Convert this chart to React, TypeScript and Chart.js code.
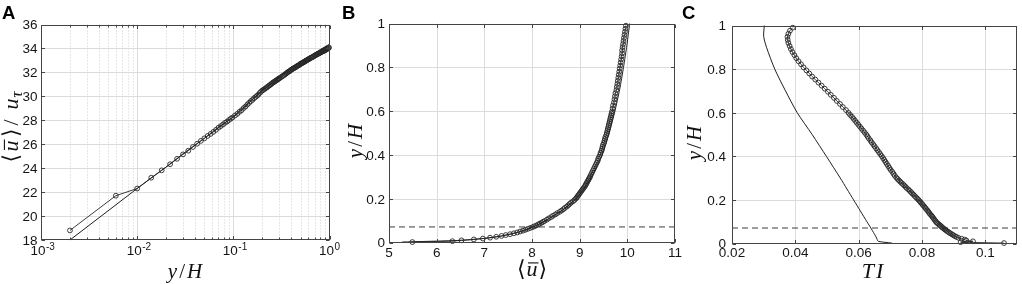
import React, { useEffect, useRef } from "react";
import { Chart, registerables } from "chart.js";

Chart.register(...registerables);

// ---------- data ----------
// wall-normal sample heights of the measured profile
const yH = [
  0.002, 0.006, 0.010, 0.014, 0.018, 0.022, 0.026, 0.030, 0.034, 0.038, 0.042, 0.046, 0.050,
  0.054, 0.058, 0.062, 0.066, 0.070, 0.074, 0.078, 0.082, 0.086, 0.090, 0.094, 0.098,
  0.104, 0.110, 0.116, 0.122, 0.128, 0.134, 0.140, 0.146, 0.152, 0.158, 0.164, 0.170,
  0.176, 0.182, 0.188, 0.194, 0.200, 0.206, 0.212, 0.218, 0.224, 0.230, 0.236, 0.242,
  0.248, 0.254, 0.260, 0.266, 0.272, 0.278, 0.284, 0.290, 0.296, 0.302,
  0.311, 0.320, 0.329, 0.338, 0.347, 0.356, 0.365, 0.374, 0.383, 0.392, 0.401,
  0.410, 0.419, 0.428, 0.437, 0.446, 0.455, 0.464, 0.473, 0.482, 0.491, 0.500,
  0.509, 0.518, 0.527, 0.536, 0.545, 0.554, 0.563, 0.572, 0.581, 0.590, 0.599,
  0.612, 0.626, 0.640, 0.654, 0.668, 0.682, 0.696, 0.710, 0.724, 0.738, 0.752, 0.766,
  0.780, 0.794, 0.808, 0.822, 0.836, 0.850, 0.864, 0.878, 0.892, 0.906, 0.920, 0.934,
  0.948, 0.962, 0.976, 0.990,
];
// panel B: mean velocity <u>
const uMean = [
  5.49, 6.33, 6.52, 6.78, 6.97, 7.12, 7.25, 7.36, 7.45, 7.54, 7.62, 7.69, 7.75,
  7.81, 7.86, 7.91, 7.96, 8.01, 8.05, 8.09, 8.13, 8.16, 8.20, 8.23, 8.26,
  8.31, 8.35, 8.40, 8.44, 8.49, 8.53, 8.58, 8.62, 8.66, 8.69, 8.73, 8.76,
  8.79, 8.82, 8.86, 8.89, 8.92, 8.94, 8.96, 8.98, 9.00, 9.02, 9.04, 9.06,
  9.08, 9.10, 9.12, 9.13, 9.15, 9.16, 9.18, 9.19, 9.21, 9.22,
  9.24, 9.26, 9.28, 9.30, 9.32, 9.34, 9.36, 9.38, 9.39, 9.41, 9.43,
  9.44, 9.46, 9.47, 9.48, 9.49, 9.51, 9.52, 9.53, 9.54, 9.56, 9.57,
  9.58, 9.59, 9.60, 9.61, 9.62, 9.63, 9.64, 9.65, 9.66, 9.67, 9.68,
  9.69, 9.70, 9.72, 9.73, 9.74, 9.75, 9.77, 9.78, 9.79, 9.80, 9.81, 9.82,
  9.83, 9.84, 9.85, 9.86, 9.87, 9.88, 9.89, 9.89, 9.90, 9.91, 9.92, 9.93,
  9.94, 9.95, 9.96, 9.97,
];
// panel A: <u>/u_tau
const uPlus = [
  18.8, 21.7, 22.3, 23.2, 23.82, 24.33, 24.78, 25.15, 25.46, 25.77, 26.04, 26.28, 26.49,
  26.69, 26.86, 27.03, 27.20, 27.38, 27.51, 27.65, 27.79, 27.89, 28.02, 28.13, 28.23,
  28.40, 28.54, 28.71, 28.84, 29.02, 29.15, 29.32, 29.46, 29.60, 29.70, 29.84, 29.94,
  30.04, 30.14, 30.28, 30.38, 30.49, 30.55, 30.62, 30.69, 30.76, 30.83, 30.90, 30.96,
  31.03, 31.10, 31.17, 31.20, 31.27, 31.31, 31.37, 31.41, 31.48, 31.51,
  31.58, 31.65, 31.72, 31.78, 31.85, 31.92, 31.99, 32.06, 32.09, 32.16, 32.23,
  32.26, 32.33, 32.36, 32.40, 32.43, 32.50, 32.54, 32.57, 32.60, 32.67, 32.71,
  32.74, 32.78, 32.81, 32.84, 32.88, 32.91, 32.95, 32.98, 33.01, 33.05, 33.08,
  33.12, 33.15, 33.22, 33.25, 33.29, 33.32, 33.39, 33.42, 33.46, 33.49, 33.53, 33.56,
  33.60, 33.63, 33.66, 33.70, 33.73, 33.77, 33.80, 33.80, 33.83, 33.87, 33.90, 33.94,
  33.97, 34.00, 34.04, 34.07,
];
// panel C: turbulence intensity
const TI = [
  0.1059, 0.0922, 0.0961, 0.0940, 0.0935, 0.0925, 0.0915, 0.0909, 0.0904, 0.0899, 0.0895, 0.0890, 0.0886,
  0.0882, 0.0878, 0.0874, 0.0871, 0.0867, 0.0864, 0.0861, 0.0858, 0.0855, 0.0851, 0.0848, 0.0845,
  0.0842, 0.0839, 0.0836, 0.0833, 0.0830, 0.0826, 0.0823, 0.0820, 0.0817, 0.0813, 0.0810, 0.0807,
  0.0803, 0.0800, 0.0796, 0.0793, 0.0789, 0.0785, 0.0781, 0.0777, 0.0773, 0.0769, 0.0765, 0.0761,
  0.0757, 0.0752, 0.0748, 0.0744, 0.0740, 0.0735, 0.0731, 0.0727, 0.0723, 0.0719,
  0.0714, 0.0710, 0.0706, 0.0701, 0.0697, 0.0693, 0.0689, 0.0685, 0.0681, 0.0677, 0.0673,
  0.0668, 0.0664, 0.0659, 0.0655, 0.0650, 0.0646, 0.0641, 0.0637, 0.0632, 0.0628, 0.0624,
  0.0619, 0.0614, 0.0609, 0.0604, 0.0599, 0.0594, 0.0589, 0.0584, 0.0579, 0.0573, 0.0568,
  0.0560, 0.0550, 0.0541, 0.0531, 0.0522, 0.0512, 0.0503, 0.0493, 0.0483, 0.0473, 0.0463, 0.0453,
  0.0444, 0.0435, 0.0426, 0.0418, 0.0410, 0.0403, 0.0397, 0.0391, 0.0386, 0.0382, 0.0378, 0.0376,
  0.0375, 0.0378, 0.0383, 0.0392,
];
// model / inflow profile (solid line)
const yHModel = [0.002, 0.01, 0.02, 0.03, 0.05, 0.07, 0.1, 0.15, 0.2, 0.25, 0.3, 0.4, 0.5, 0.6, 0.7, 0.8, 0.9, 0.95, 1.0];
const uModel = [5.27, 6.52, 7.05, 7.37, 7.76, 8.02, 8.29, 8.66, 8.93, 9.11, 9.25, 9.47, 9.62, 9.74, 9.84, 9.92, 9.99, 10.02, 10.05];
const uPlusModel = [18.0, 22.3, 24.1, 25.2, 26.5, 27.4, 28.3, 29.6, 30.5, 31.1, 31.6, 32.35, 32.9, 33.3, 33.6, 33.9, 34.15, 34.25, 34.35];
const TIModel = [0.0705, 0.0662, 0.0658, 0.0655, 0.0647, 0.0639, 0.0626, 0.0605, 0.0584, 0.0563, 0.0542, 0.0498, 0.0453, 0.0406, 0.0369, 0.0335, 0.0309, 0.0300, 0.0302];
const BLEND_HEIGHT = 0.071;

// ticks
const A_X_TICKS = [0.001, 0.01, 0.1, 1];
const A_X_EXPONENTS = ["-3", "-2", "-1", "0"];
const A_Y_TICKS = [18, 20, 22, 24, 26, 28, 30, 32, 34, 36];
const B_X_TICKS = [5, 6, 7, 8, 9, 10, 11];
const FRAC_TICKS = [0, 0.2, 0.4, 0.6, 0.8, 1];
const FRAC_LABELS = ["0", "0.2", "0.4", "0.6", "0.8", "1"];
const C_X_TICKS = [0.02, 0.04, 0.06, 0.08, 0.1];
const C_X_LABELS = ["0.02", "0.04", "0.06", "0.08", "0.1"];

const A_X_MINOR: number[] = [];
[0.001, 0.01, 0.1].forEach((d) => {
  for (let k = 2; k <= 9; k++) A_X_MINOR.push(d * k);
});

// ---------- styling ----------
const PAGE_H = 284;
const TICK_FONT = '13.5px "Liberation Sans", Arial, Helvetica, sans-serif';
const SUP_FONT = '10px "Liberation Sans", Arial, Helvetica, sans-serif';
const TEXT_COLOR = "#151515";
const MARK = "#262626";

type Seg = { t: string; it?: boolean; sz?: number; dy?: number; over?: boolean; at?: number; gap?: number };

const Y_OVER_H: Seg[] = [{ t: "y", it: true }, { t: "/", gap: 2 }, { t: "H", it: true, gap: 2 }];
const UMEAN_T: Seg[] = [{ t: "⟨" }, { t: "u", it: true, over: true, gap: 1 }, { t: "⟩", gap: 1 }];
const UPLUS_T: Seg[] = [
  { t: "⟨", at: 0 },
  { t: "u", it: true, over: true, at: 11 },
  { t: "⟩", at: 25.5 },
  { t: "/", at: 37 },
  { t: "u", it: true, at: 53 },
  { t: "τ", it: true, sz: 17, dy: 4, at: 65 },
];
const TI_T: Seg[] = [{ t: "T", it: true }, { t: "I", it: true, gap: 2 }];

function mathFont(sz: number, it: boolean) {
  return `${it ? "italic " : ""}${sz}px "Liberation Serif", "DejaVu Serif", "DejaVu Sans", serif`;
}

function drawRich(ctx: CanvasRenderingContext2D, segs: Seg[], base: number, total?: number) {
  let x = 0;
  const pos: number[] = [];
  segs.forEach((s) => {
    ctx.font = mathFont(s.sz ?? base, !!s.it);
    if (s.at !== undefined) x = s.at;
    else x += s.gap ?? 0;
    pos.push(x);
    x += ctx.measureText(s.t).width;
  });
  const width = total ?? x;
  const off = -width / 2;
  ctx.textAlign = "left";
  ctx.textBaseline = "alphabetic";
  segs.forEach((s, i) => {
    const sz = s.sz ?? base;
    ctx.font = mathFont(sz, !!s.it);
    const px = off + pos[i];
    ctx.fillText(s.t, px, s.dy ?? 0);
    if (s.over) {
      const w = ctx.measureText(s.t).width;
      ctx.fillRect(px + 1.5, -sz * 0.62, w - 0.5, 1.1);
    }
  });
}

const markerDs = (data: { x: number; y: number }[]) => ({
  data,
  showLine: true,
  borderColor: MARK,
  borderWidth: 0.9,
  pointRadius: 2.4,
  pointBorderWidth: 0.9,
  pointBorderColor: MARK,
  pointBackgroundColor: "rgba(0,0,0,0)",
  pointStyle: "circle",
  clip: false,
});
const modelDs = (data: { x: number; y: number }[], tension: number) => ({
  data,
  showLine: true,
  borderColor: "#1e1e1e",
  borderWidth: 1,
  pointRadius: 0,
  tension,
  clip: false,
});
const dashDs = (x0: number, x1: number) => ({
  data: [
    { x: x0, y: BLEND_HEIGHT },
    { x: x1, y: BLEND_HEIGHT },
  ],
  showLine: true,
  borderColor: "#3c3c3c",
  borderWidth: 1,
  borderDash: [6, 4],
  pointRadius: 0,
});

const PANELS: any[] = [
  {
    letter: "A",
    left: 0,
    width: 345,
    plot: { l: 41, r: 329.5, t: 24.5, b: 240 },
    xType: "logarithmic",
    xMin: 0.001,
    xMax: 1,
    yMin: 18,
    yMax: 36,
    xTicks: A_X_TICKS,
    xExp: A_X_EXPONENTS,
    yTicks: A_Y_TICKS,
    yLabels: A_Y_TICKS.map(String),
    xMinor: A_X_MINOR,
    xLabelBase: 254.5,
    yLabelRight: 37.5,
    letterX: 2,
    xTitle: Y_OVER_H,
    xTitleSize: 21,
    xTitleCx: 185,
    xTitleBase: 277.5,
    yTitle: UPLUS_T,
    yTitleSize: 22,
    yTitleCy: 122.5,
    yTitleBase: 17.5,
    yTitleLen: 80,
    datasets: [
      markerDs(yH.map((h, i) => ({ x: h, y: uPlus[i] }))),
      modelDs(yHModel.map((h, i) => ({ x: h, y: uPlusModel[i] })), 0),
    ],
  },
  {
    letter: "B",
    left: 338,
    width: 345,
    plot: { l: 389, r: 675, t: 23.5, b: 242.5 },
    xType: "linear",
    xMin: 5,
    xMax: 11,
    yMin: 0,
    yMax: 1,
    xTicks: B_X_TICKS,
    xLabels: B_X_TICKS.map(String),
    yTicks: FRAC_TICKS,
    yLabels: FRAC_LABELS,
    xLabelBase: 257,
    yLabelRight: 385,
    letterX: 342,
    xTitle: UMEAN_T,
    xTitleSize: 22,
    xTitleCx: 532,
    xTitleBase: 276,
    yTitle: Y_OVER_H,
    yTitleSize: 21,
    yTitleCy: 141,
    yTitleBase: 361.5,
    datasets: [
      markerDs(yH.map((h, i) => ({ x: uMean[i], y: h }))),
      modelDs(yHModel.map((h, i) => ({ x: uModel[i], y: h })), 0.2),
      dashDs(5, 11),
    ],
  },
  {
    letter: "C",
    left: 678,
    width: 344,
    plot: { l: 732, r: 1017, t: 25.5, b: 243.5 },
    xType: "linear",
    xMin: 0.02,
    xMax: 0.11,
    yMin: 0,
    yMax: 1,
    xTicks: C_X_TICKS,
    xLabels: C_X_LABELS,
    yTicks: FRAC_TICKS,
    yLabels: FRAC_LABELS,
    xLabelBase: 257,
    yLabelRight: 726,
    letterX: 682,
    xTitle: TI_T,
    xTitleSize: 22,
    xTitleCx: 872.5,
    xTitleBase: 278,
    yTitle: Y_OVER_H,
    yTitleSize: 21,
    yTitleCy: 143,
    yTitleBase: 701,
    datasets: [
      markerDs(yH.map((h, i) => ({ x: TI[i], y: h }))),
      modelDs(yHModel.map((h, i) => ({ x: TIModel[i], y: h })), 0.25),
      dashDs(0.02, 0.11),
    ],
  },
];

function makePlugin(cfg: any) {
  const crisp = (p: number) => Math.round(p) + 0.5;
  return {
    id: "matlabAxes" + cfg.letter,
    beforeDatasetsDraw(chart: any) {
      const { ctx, chartArea: a, scales } = chart;
      const xs = scales.x;
      const ys = scales.y;
      ctx.save();
      ctx.lineWidth = 1;
      if (cfg.xMinor) {
        ctx.strokeStyle = "#cfcfcf";
        ctx.setLineDash([1, 2]);
        ctx.beginPath();
        cfg.xMinor.forEach((v: number) => {
          const p = crisp(xs.getPixelForValue(v));
          ctx.moveTo(p, a.top);
          ctx.lineTo(p, a.bottom);
        });
        ctx.stroke();
        ctx.setLineDash([]);
      }
      ctx.strokeStyle = "#dcdcdc";
      ctx.beginPath();
      cfg.xTicks.forEach((v: number) => {
        if (v <= cfg.xMin || v >= cfg.xMax) return;
        const p = crisp(xs.getPixelForValue(v));
        ctx.moveTo(p, a.top);
        ctx.lineTo(p, a.bottom);
      });
      cfg.yTicks.forEach((v: number) => {
        if (v <= cfg.yMin || v >= cfg.yMax) return;
        const p = crisp(ys.getPixelForValue(v));
        ctx.moveTo(a.left, p);
        ctx.lineTo(a.right, p);
      });
      ctx.stroke();
      ctx.restore();
    },
    afterDraw(chart: any) {
      const { ctx, chartArea: a, scales } = chart;
      const xs = scales.x;
      const ys = scales.y;
      const off = cfg.left;
      ctx.save();
      // box
      const L = crisp(a.left);
      const R = crisp(a.right) - 1;
      const T = crisp(a.top);
      const B = crisp(a.bottom) - 1;
      ctx.strokeStyle = "#444";
      ctx.lineWidth = 1;
      ctx.strokeRect(L, T, R - L, B - T);
      // inward ticks on all sides
      ctx.beginPath();
      cfg.xTicks.forEach((v: number) => {
        const p = crisp(xs.getPixelForValue(v));
        ctx.moveTo(p, B);
        ctx.lineTo(p, B - 3.5);
        ctx.moveTo(p, T);
        ctx.lineTo(p, T + 3.5);
      });
      (cfg.xMinor || []).forEach((v: number) => {
        const p = crisp(xs.getPixelForValue(v));
        ctx.moveTo(p, B);
        ctx.lineTo(p, B - 2);
        ctx.moveTo(p, T);
        ctx.lineTo(p, T + 2);
      });
      cfg.yTicks.forEach((v: number) => {
        const p = crisp(ys.getPixelForValue(v));
        ctx.moveTo(L, p);
        ctx.lineTo(L + 3.5, p);
        ctx.moveTo(R, p);
        ctx.lineTo(R - 3.5, p);
      });
      ctx.stroke();

      // tick labels
      ctx.fillStyle = TEXT_COLOR;
      ctx.textBaseline = "alphabetic";
      ctx.font = TICK_FONT;
      ctx.textAlign = "right";
      cfg.yTicks.forEach((v: number, i: number) => {
        const p = ys.getPixelForValue(v);
        ctx.fillText(cfg.yLabels[i], cfg.yLabelRight - off, p + 4.8);
      });
      if (cfg.xExp) {
        ctx.textAlign = "left";
        cfg.xTicks.forEach((v: number, i: number) => {
          const p = xs.getPixelForValue(v);
          const x0 = p - 10.5;
          ctx.font = TICK_FONT;
          ctx.fillText("10", x0, cfg.xLabelBase);
          const w = ctx.measureText("10").width;
          ctx.font = SUP_FONT;
          ctx.fillText(cfg.xExp[i], x0 + w + 0.5, cfg.xLabelBase - 5);
        });
      } else {
        ctx.textAlign = "center";
        cfg.xTicks.forEach((v: number, i: number) => {
          const p = xs.getPixelForValue(v);
          ctx.fillText(cfg.xLabels[i], p, cfg.xLabelBase);
        });
      }

      // axis titles
      ctx.fillStyle = "#111";
      ctx.save();
      ctx.translate(cfg.xTitleCx - off, cfg.xTitleBase);
      drawRich(ctx, cfg.xTitle, cfg.xTitleSize);
      ctx.restore();
      ctx.save();
      ctx.translate(cfg.yTitleBase - off, cfg.yTitleCy);
      ctx.rotate(-Math.PI / 2);
      drawRich(ctx, cfg.yTitle, cfg.yTitleSize, cfg.yTitleLen);
      ctx.restore();

      // panel letter
      ctx.fillStyle = "#000";
      ctx.font = 'bold 18.5px "Liberation Sans", Arial, sans-serif';
      ctx.textAlign = "left";
      ctx.fillText(cfg.letter, cfg.letterX - off, 18.5);
      ctx.restore();
    },
  };
}

function buildChart(canvas: HTMLCanvasElement, cfg: any) {
  return new Chart(canvas, {
    type: "scatter",
    data: { datasets: cfg.datasets },
    options: {
      responsive: false,
      animation: false,
      events: [],
      devicePixelRatio: 1,
      layout: {
        padding: {
          left: cfg.plot.l - cfg.left,
          right: cfg.left + cfg.width - cfg.plot.r,
          top: cfg.plot.t,
          bottom: PAGE_H - cfg.plot.b,
        },
      },
      plugins: { legend: { display: false }, tooltip: { enabled: false }, title: { display: false } },
      scales: {
        x: { type: cfg.xType, min: cfg.xMin, max: cfg.xMax, display: false },
        y: { type: "linear", min: cfg.yMin, max: cfg.yMax, display: false },
      },
    } as any,
    plugins: [makePlugin(cfg)],
  } as any);
}

export default function App() {
  const refs = useRef<(HTMLCanvasElement | null)[]>([]);
  useEffect(() => {
    const charts = PANELS.map((cfg, i) => buildChart(refs.current[i] as HTMLCanvasElement, cfg));
    return () => charts.forEach((c) => c.destroy());
  }, []);
  return (
    <div style={{ position: "absolute", left: 0, top: 0, width: 1022, height: PAGE_H, background: "#fff", overflow: "hidden" }}>
      {PANELS.map((cfg, i) => (
        <canvas
          key={cfg.letter}
          ref={(el) => {
            refs.current[i] = el;
          }}
          width={cfg.width}
          height={PAGE_H}
          style={{ position: "absolute", left: cfg.left, top: 0, width: cfg.width, height: PAGE_H }}
        />
      ))}
    </div>
  );
}
